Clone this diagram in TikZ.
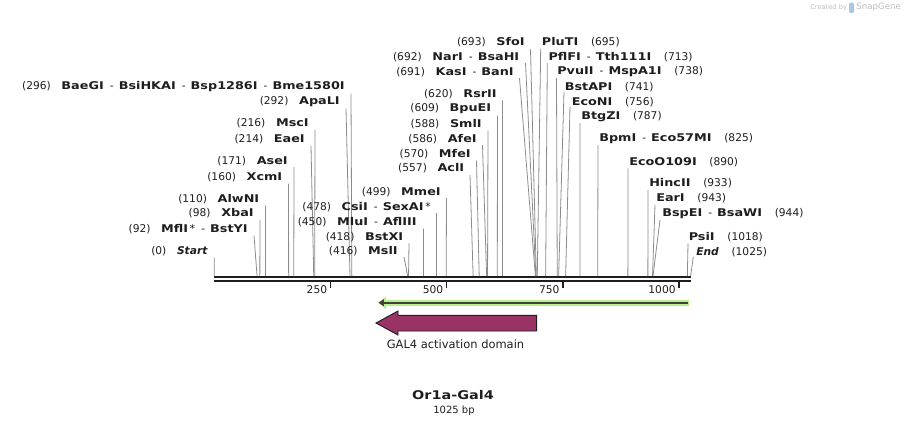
\documentclass[tikz,border=0pt]{standalone}
\usepackage{fontspec}
\setmainfont{DejaVu Sans}[BoldFeatures={FakeStretch=1.2}]
\usepackage{tikz}
\usetikzlibrary{calc,positioning,arrows.meta}

\definecolor{siteline}{RGB}{140,140,140}
\definecolor{featpurple}{RGB}{153,51,102}
\definecolor{primgreen}{RGB}{184,240,138}
\definecolor{mapblack}{RGB}{30,30,30}
\definecolor{markgray}{RGB}{190,190,190}
\definecolor{markblue}{RGB}{170,200,225}

\newcommand\cutsep{\hspace{4.5pt}-\hspace{3.8pt}}
\newcommand\numgap{\hspace{8pt}}
\newcommand\rgap{\hspace{9.5pt}}

\begin{document}
\begin{tikzpicture}[x=0.75pt,y=-0.75pt,
    lbl/.style={inner sep=0pt, text=mapblack, font=\fontsize{8}{9}\selectfont},
    site/.style={siteline, line width=0.6pt},
    tick/.style={mapblack, line width=1.1pt}]
        \useasboundingbox (0,0) rectangle (907,426);

        % sites on the map (bp -> px)
        \begin{scope}[xshift=160.725pt, x=0.34853pt]
            \foreach \bp in {0,92,98,110,160,171,214,216,292,296,416,418,450,478,499,557,570,586,588,609,620,691,692,693,695,713,738,741,756,787,825,890,933,943,944,1018,1025}
                \coordinate (s\bp) at (\bp,276);
            \coordinate (mapstart) at (0,277);
            \coordinate (mapend) at (1025,277);
            \foreach \t in {250,500,750,1000}
                \draw[tick] (\t,282) -- (\t,288) node[lbl, anchor=east, xshift=-2pt, yshift=-1.5pt] (t\t) {\t};
        \end{scope}

        % backbone
        \draw[mapblack, line width=1.9pt] (mapstart) -- (mapend);
        \draw[mapblack, line width=1.1pt] ([yshift=-3pt]mapstart) -- ([yshift=-3pt]mapend);

        % left side labels
        \node[lbl, anchor=east] (baegi) at (345,86.7) {(296)\numgap\textbf{BaeGI}\cutsep\textbf{BsiHKAI}\cutsep\textbf{Bsp1286I}\cutsep\textbf{Bme1580I}};
        \draw[site] ([shift={(6,7)}]baegi.east) -- (s296);
        \node[lbl, anchor=east] (apali) at (340,102) {(292)\numgap\textbf{ApaLI}};
        \draw[site] ([shift={(6,6.5)}]apali.east) -- (s292);
        \node[lbl, anchor=east] (msci) at (309,123.3) {(216)\numgap\textbf{MscI}};
        \draw[site] ([shift={(6,6.5)}]msci.east) -- (s216);
        \node[lbl, anchor=east] (eaei) at (305,139.5) {(214)\numgap\textbf{EaeI}};
        \draw[site] ([shift={(6,6.5)}]eaei.east) -- (s214);
        \node[lbl, anchor=east] (asei) at (288,160.7) {(171)\numgap\textbf{AseI}};
        \draw[site] ([shift={(6,6.5)}]asei.east) -- (s171);
        \node[lbl, anchor=east] (xcmi) at (282.5,177) {(160)\numgap\textbf{XcmI}};
        \draw[site] ([shift={(6,6.5)}]xcmi.east) -- (s160);
        \node[lbl, anchor=east] (alwni) at (259.5,199) {(110)\numgap\textbf{AlwNI}};
        \draw[site] ([shift={(6,6.5)}]alwni.east) -- (s110);
        \node[lbl, anchor=east] (xbai) at (254,213.5) {(98)\numgap\textbf{XbaI}};
        \draw[site] ([shift={(6,6.5)}]xbai.east) -- (s98);
        \node[lbl, anchor=east] (mfli) at (248,229) {(92)\numgap\textbf{MflI}\,*\cutsep\textbf{BstYI}};
        \draw[site] ([shift={(6,6.5)}]mfli.east) -- (s92);
        \node[lbl, anchor=east] (start) at (208,251.5) {(0)\numgap\textbf{\itshape Start}};
        \draw[site] ([shift={(6.3,6)}]start.east) -- (s0);

        % middle labels
        \node[lbl, anchor=east] (mmei) at (441,191.7) {(499)\numgap\textbf{MmeI}};
        \draw[site] ([shift={(5.5,6.5)}]mmei.east) -- (s499);
        \node[lbl, anchor=east] (csii) at (431,206.7) {(478)\numgap\textbf{CsiI}\cutsep\textbf{SexAI}\,*};
        \draw[site] ([shift={(5.5,6.5)}]csii.east) -- (s478);
        \node[lbl, anchor=east] (mlui) at (417,221.7) {(450)\numgap\textbf{MluI}\cutsep\textbf{AflIII}};
        \draw[site] ([shift={(6.5,7)}]mlui.east) -- (s450);
        \node[lbl, anchor=east] (bstxi) at (403.5,236.7) {(418)\numgap\textbf{BstXI}};
        \draw[site] ([shift={(5.5,6.5)}]bstxi.east) -- (s418);
        \node[lbl, anchor=east] (msli) at (398,251) {(416)\numgap\textbf{MslI}};
        \draw[site] ([shift={(6,6)}]msli.east) -- (s416);
        \node[lbl, anchor=east] (acli) at (464.5,168.5) {(557)\numgap\textbf{AclI}};
        \draw[site] ([shift={(5.5,6.5)}]acli.east) -- (s557);
        \node[lbl, anchor=east] (mfei) at (471,154) {(570)\numgap\textbf{MfeI}};
        \draw[site] ([shift={(5.5,6.5)}]mfei.east) -- (s570);
        \node[lbl, anchor=east] (afei) at (477,139) {(586)\numgap\textbf{AfeI}};
        \draw[site] ([shift={(5.5,6)}]afei.east) -- (s586);
        \node[lbl, anchor=east] (smli) at (482,124) {(588)\numgap\textbf{SmlI}};
        \draw[site] ([shift={(6,6.5)}]smli.east) -- (s588);
        \node[lbl, anchor=east] (bpuei) at (491.5,109) {(609)\numgap\textbf{BpuEI}};
        \draw[site] ([shift={(6,6.5)}]bpuei.east) -- (s609);
        \node[lbl, anchor=east] (rsrii) at (497,94.3) {(620)\numgap\textbf{RsrII}};
        \draw[site] ([shift={(5.5,6)}]rsrii.east) -- (s620);
        \node[lbl, anchor=east] (kasi) at (514,71.7) {(691)\numgap\textbf{KasI}\cutsep\textbf{BanI}};
        \draw[site] ([shift={(5.5,6.5)}]kasi.east) -- (s691);
        \node[lbl, anchor=east] (nari) at (519.5,56.7) {(692)\numgap\textbf{NarI}\cutsep\textbf{BsaHI}};
        \draw[site] ([shift={(6,6.5)}]nari.east) -- (s692);
        \node[lbl, anchor=east] (sfoi) at (525,42.3) {(693)\numgap\textbf{SfoI}};
        \draw[site] ([shift={(5.5,7)}]sfoi.east) -- (s693);

        % right side labels
        \node[lbl, anchor=west] (pluti) at (541.7,42.3) {\textbf{PluTI}\rgap(695)};
        \draw[site] ([shift={(-1,6.5)}]pluti.west) -- (s695);
        \node[lbl, anchor=west] (pflfi) at (548.3,56.7) {\textbf{PflFI}\cutsep\textbf{Tth111I}\rgap(713)};
        \draw[site] ([shift={(-1,6.5)}]pflfi.west) -- (s713);
        \node[lbl, anchor=west] (pvuii) at (557,71.7) {\textbf{PvuII}\cutsep\textbf{MspA1I}\rgap(738)};
        \draw[site] ([shift={(-0.5,6.5)}]pvuii.west) -- (s738);
        \node[lbl, anchor=west] (bstapi) at (564.5,86.7) {\textbf{BstAPI}\rgap(741)};
        \draw[site] ([shift={(-0.5,5)}]bstapi.west) -- (s741);
        \node[lbl, anchor=west] (econi) at (571.5,101.7) {\textbf{EcoNI}\rgap(756)};
        \draw[site] ([shift={(-1.5,5)}]econi.west) -- (s756);
        \node[lbl, anchor=west] (btgzi) at (581,116.7) {\textbf{BtgZI}\rgap(787)};
        \draw[site] ([shift={(-1,6.5)}]btgzi.west) -- (s787);
        \node[lbl, anchor=west] (bpmi) at (599,139) {\textbf{BpmI}\cutsep\textbf{Eco57MI}\rgap(825)};
        \draw[site] ([shift={(-1,6)}]bpmi.west) -- (s825);
        \node[lbl, anchor=west] (ecoo) at (629,162.3) {\textbf{EcoO109I}\rgap(890)};
        \draw[site] ([shift={(-1,6)}]ecoo.west) -- (s890);
        \node[lbl, anchor=west] (hincii) at (649,183.3) {\textbf{HincII}\rgap(933)};
        \draw[site] ([shift={(-1,6.5)}]hincii.west) -- (s933);
        \node[lbl, anchor=west] (eari) at (656,198.3) {\textbf{EarI}\rgap(943)};
        \draw[site] ([shift={(-1,6.5)}]eari.west) -- (s943);
        \node[lbl, anchor=west] (bspei) at (662,213.3) {\textbf{BspEI}\cutsep\textbf{BsaWI}\rgap(944)};
        \draw[site] ([shift={(-2,6.5)}]bspei.west) -- (s944);
        \node[lbl, anchor=west] (psii) at (688.5,237.3) {\textbf{PsiI}\rgap(1018)};
        \draw[site] ([shift={(-0.5,6)}]psii.west) -- (s1018);
        \node[lbl, anchor=west] (end) at (696,251.7) {\textbf{\itshape End}\rgap(1025)};
        \draw[site] ([shift={(-2.7,5)}]end.west) -- (s1025);

        % primer bar
        \draw[primgreen, line width=4.5pt, -{Triangle[length=6pt,width=9pt]}] (689.3,302.7) -- (378,302.7);
        \draw[mapblack!85, line width=1.6pt, -{Triangle[length=4pt,width=5pt]}] (688,302.7) -- (378.5,302.7);

        % feature
        \draw[mapblack, line width=0.7pt, fill=featpurple] (376,323) -- (398,311) -- (398,315.3) -- (536.7,315.3) -- (536.7,331) -- (398,331) -- (398,335) -- cycle;
        \node[lbl, font=\fontsize{8.6}{10}\selectfont] (gal4) at (455.5,344.3) {GAL4 activation domain};

        % title
        \node[lbl, font=\fontsize{9}{11}\selectfont\bfseries] (title) at (453,395) {Or1a-Gal4};
        \node[lbl, font=\fontsize{7.5}{9}\selectfont] (len) at (454,410.7) {1025 bp};

        % watermark
        \node[lbl, text=markgray, font=\fontsize{5}{6}\selectfont, anchor=west] (made) at (810,7.5) {Created by};
        \fill[markblue, rounded corners=1pt] (849,2.5) rectangle (854,13);
        \node[lbl, text=markgray, font=\fontsize{6.5}{7}\selectfont, anchor=west] (snap) at (856,7.5) {SnapGene};
    \end{tikzpicture}
\end{document}
